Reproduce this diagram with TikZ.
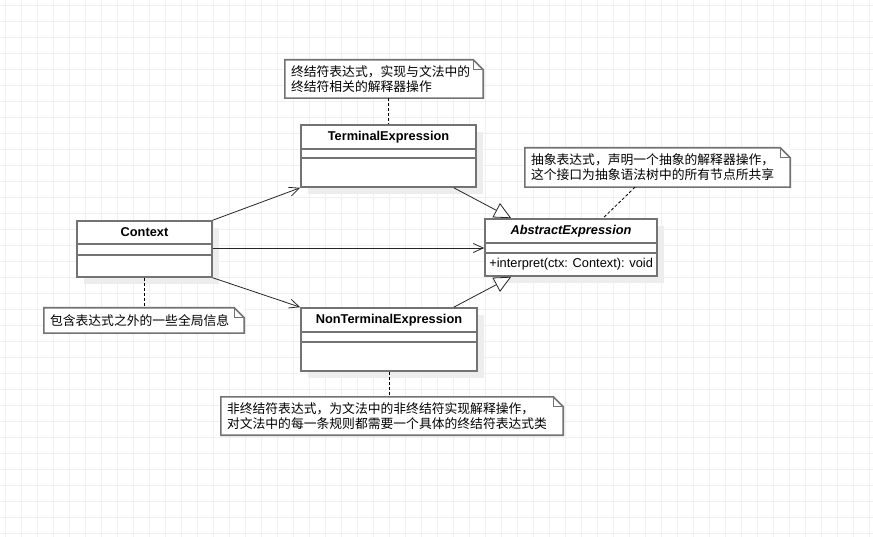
\documentclass[tikz,border=0pt]{standalone}
\usepackage{fontspec}
\setmainfont{Liberation Sans}
\newfontfamily\cjk{Noto Sans CJK SC}
\usepackage{tikz}
\usetikzlibrary{arrows.meta,shadows}
\tikzstyle{gridline}=[draw=black!6, line width=0.8pt]
\tikzstyle{umlclass}=[draw=black!55, line width=1.6pt, fill=white, inner sep=0pt, drop shadow={shadow xshift=7pt, shadow yshift=-7pt, fill=black!7, opacity=1}]
\tikzstyle{classname}=[font=\fontsize{12.8}{15}\selectfont\bfseries, inner sep=0pt]
\tikzstyle{member}=[font=\fontsize{12.8}{15}\selectfont, inner sep=0pt]
\tikzstyle{divider}=[draw=black!55, line width=1.6pt]
\tikzstyle{note}=[fill=white, inner xsep=6pt, inner ysep=0pt, align=left, font=\cjk\fontsize{12.8}{15}\selectfont]
\tikzstyle{noteline}=[draw=black!55, line width=1.6pt]
\tikzstyle{notelink}=[draw=black, line width=0.8pt, dash pattern=on 3pt off 2pt]
\tikzstyle{assoc}=[draw=black!85, line width=0.8pt, -{Straight Barb[length=10pt,width=9pt]}]
\tikzstyle{inherit}=[draw=black!85, line width=0.8pt, -{Triangle[length=17pt,width=16pt,fill=white]}]
\newcommand{\notefold}[1]{
	\draw[noteline] (#1.south west) -- (#1.north west) -- ([xshift=-10pt]#1.north east) -- ([yshift=-10pt]#1.north east) -- (#1.south east) -- cycle;
	\draw[noteline, line width=1pt] ([xshift=-10pt]#1.north east) |- ([yshift=-10pt]#1.north east);
}
\begin{document}
\begin{tikzpicture}[x=1pt, y=-1pt]
	\useasboundingbox[fill=white] (0,0) rectangle (873,537);
	\draw[gridline, step=16pt, xshift=5.5pt, yshift=-5.5pt] (-5.5,-5.5) grid (867.5,531.5);

	\node[umlclass, minimum width=135pt, minimum height=56pt] (context) at (144.5,249) {};
	\node[classname] (contextname) at ([yshift=-12pt]context.north) {Context};
	\draw[divider] ([yshift=-24pt]context.north west) -- ([yshift=-24pt]context.north east);
	\draw[divider] ([yshift=-35pt]context.north west) -- ([yshift=-35pt]context.north east);

	\node[umlclass, minimum width=175pt, minimum height=62pt] (terminal) at (388.5,156) {};
	\node[classname] (terminalname) at ([yshift=-12.5pt]terminal.north) {TerminalExpression};
	\draw[divider] ([yshift=-25pt]terminal.north west) -- ([yshift=-25pt]terminal.north east);
	\draw[divider] ([yshift=-34pt]terminal.north west) -- ([yshift=-34pt]terminal.north east);

	\node[umlclass, minimum width=176pt, minimum height=63pt] (nonterminal) at (389,339.5) {};
	\node[classname] (nonterminalname) at ([yshift=-12.5pt]nonterminal.north) {NonTerminalExpression};
	\draw[divider] ([yshift=-25pt]nonterminal.north west) -- ([yshift=-25pt]nonterminal.north east);
	\draw[divider] ([yshift=-35pt]nonterminal.north west) -- ([yshift=-35pt]nonterminal.north east);

	\node[umlclass, minimum width=172pt, minimum height=57pt] (abstract) at (571,247.5) {};
	\node[classname] (abstractname) at ([yshift=-12.5pt]abstract.north) {\itshape AbstractExpression};
	\draw[divider] ([yshift=-25pt]abstract.north west) -- ([yshift=-25pt]abstract.north east);
	\draw[divider] ([yshift=-35pt]abstract.north west) -- ([yshift=-35pt]abstract.north east);
	\node[member, anchor=west] (interpret) at ([xshift=5pt,yshift=-46pt]abstract.north west) {+interpret(ctx: Context): void};

	\node[note, minimum height=38pt, text width=186pt] (terminalnote) at (384,79) {终结符表达式，实现与文法中的\\终结符相关的解释器操作};
	\notefold{terminalnote}
	\node[note, minimum height=39pt, text width=253pt] (abstractnote) at (657.5,167.5) {抽象表达式，声明一个抽象的解释器操作，\\这个接口为抽象语法树中的所有节点所共享};
	\notefold{abstractnote}
	\node[note, minimum height=25pt, text width=188pt] (contextnote) at (144,320.5) {包含表达式之外的一些全局信息};
	\notefold{contextnote}
	\node[note, minimum height=38pt, text width=330pt] (nonterminalnote) at (392,416) {非终结符表达式，为文法中的非终结符实现解释操作，\\对文法中的每一条规则都需要一个具体的终结符表达式类};
	\notefold{nonterminalnote}

	\draw[notelink] (terminal.north |- terminalnote.south) -- (terminal.north);
	\draw[notelink] ([xshift=-22.5pt]abstractnote.south) -- ([xshift=32pt]abstract.north);
	\draw[notelink] (context.south) -- (context.south |- contextnote.north);
	\draw[notelink] (nonterminal.south) -- (nonterminal.south |- nonterminalnote.north);

	\coordinate (contextport) at ([yshift=1pt]context.east);
	\draw[assoc] (context.north east) -- (terminal.south west);
	\draw[assoc] (contextport) -- (abstract.west |- contextport);
	\draw[assoc] (context.south east) -- (nonterminal.north west);
	\draw[inherit] ([xshift=-23pt]terminal.south east) -- ([xshift=27pt]abstract.north west);
	\draw[inherit] ([xshift=-24pt]nonterminal.north east) -- ([xshift=27pt]abstract.south west);
\end{tikzpicture}
\end{document}
